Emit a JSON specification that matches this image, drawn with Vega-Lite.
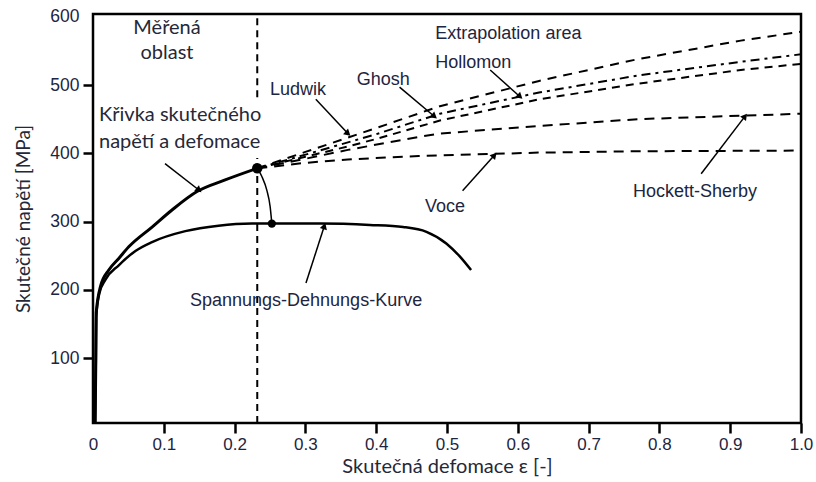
{
  "$schema": "https://vega.github.io/schema/vega-lite/v6.json",
  "width": 708,
  "height": 409,
  "autosize": {"type": "none"},
  "padding": {"left": 93, "top": 14, "right": 15, "bottom": 59},
  "background": "white",
  "config": {
    "view": {"stroke": "black", "strokeWidth": 2.5},
    "font": "Liberation Sans"
  },
  "datasets": {
    "measured": [
      {"curve": "true", "x": 0.003, "y": 5},
      {"curve": "true", "x": 0.004, "y": 100},
      {"curve": "true", "x": 0.0045, "y": 166},
      {"curve": "true", "x": 0.0106, "y": 205},
      {"curve": "true", "x": 0.0223, "y": 229},
      {"curve": "true", "x": 0.0364, "y": 246},
      {"curve": "true", "x": 0.0505, "y": 263},
      {"curve": "true", "x": 0.0834, "y": 292},
      {"curve": "true", "x": 0.1116, "y": 317},
      {"curve": "true", "x": 0.1469, "y": 344},
      {"curve": "true", "x": 0.1867, "y": 361},
      {"curve": "true", "x": 0.232, "y": 378},
      {"curve": "eng", "x": 0.003, "y": 5},
      {"curve": "eng", "x": 0.004, "y": 100},
      {"curve": "eng", "x": 0.0045, "y": 160},
      {"curve": "eng", "x": 0.009, "y": 195},
      {"curve": "eng", "x": 0.0176, "y": 215},
      {"curve": "eng", "x": 0.0364, "y": 236},
      {"curve": "eng", "x": 0.0599, "y": 257},
      {"curve": "eng", "x": 0.0834, "y": 270},
      {"curve": "eng", "x": 0.1304, "y": 286},
      {"curve": "eng", "x": 0.1773, "y": 294},
      {"curve": "eng", "x": 0.2244, "y": 297},
      {"curve": "eng", "x": 0.2526, "y": 297},
      {"curve": "eng", "x": 0.3206, "y": 297},
      {"curve": "eng", "x": 0.3911, "y": 295},
      {"curve": "eng", "x": 0.438, "y": 292},
      {"curve": "eng", "x": 0.471, "y": 285},
      {"curve": "eng", "x": 0.499, "y": 268},
      {"curve": "eng", "x": 0.518, "y": 249},
      {"curve": "eng", "x": 0.534, "y": 229},
      {"curve": "neck", "x": 0.2526, "y": 297},
      {"curve": "neck", "x": 0.2502, "y": 322},
      {"curve": "neck", "x": 0.2455, "y": 346},
      {"curve": "neck", "x": 0.2385, "y": 366},
      {"curve": "neck", "x": 0.2323, "y": 378}
    ],
    "models": [
      {"curve": "Ludwik", "x": 0.232, "y": 378},
      {"curve": "Ludwik", "x": 0.3, "y": 402},
      {"curve": "Ludwik", "x": 0.36, "y": 423},
      {"curve": "Ludwik", "x": 0.4, "y": 437},
      {"curve": "Ludwik", "x": 0.49, "y": 469},
      {"curve": "Ludwik", "x": 0.63, "y": 506},
      {"curve": "Ludwik", "x": 0.77, "y": 538},
      {"curve": "Ludwik", "x": 0.915, "y": 565},
      {"curve": "Ludwik", "x": 1.0, "y": 578},
      {"curve": "Hollomon", "x": 0.232, "y": 378},
      {"curve": "Hollomon", "x": 0.3, "y": 398},
      {"curve": "Hollomon", "x": 0.36, "y": 416},
      {"curve": "Hollomon", "x": 0.4, "y": 428},
      {"curve": "Hollomon", "x": 0.49, "y": 458},
      {"curve": "Hollomon", "x": 0.63, "y": 489},
      {"curve": "Hollomon", "x": 0.77, "y": 514},
      {"curve": "Hollomon", "x": 0.915, "y": 534},
      {"curve": "Hollomon", "x": 1.0, "y": 545},
      {"curve": "Ghosh", "x": 0.232, "y": 378},
      {"curve": "Ghosh", "x": 0.3, "y": 395},
      {"curve": "Ghosh", "x": 0.36, "y": 410},
      {"curve": "Ghosh", "x": 0.4, "y": 421},
      {"curve": "Ghosh", "x": 0.49, "y": 448},
      {"curve": "Ghosh", "x": 0.63, "y": 479},
      {"curve": "Ghosh", "x": 0.77, "y": 502},
      {"curve": "Ghosh", "x": 0.915, "y": 522},
      {"curve": "Ghosh", "x": 1.0, "y": 531},
      {"curve": "Hockett-Sherby", "x": 0.232, "y": 378},
      {"curve": "Hockett-Sherby", "x": 0.3, "y": 392},
      {"curve": "Hockett-Sherby", "x": 0.36, "y": 405},
      {"curve": "Hockett-Sherby", "x": 0.46, "y": 424},
      {"curve": "Hockett-Sherby", "x": 0.49, "y": 429},
      {"curve": "Hockett-Sherby", "x": 0.63, "y": 440},
      {"curve": "Hockett-Sherby", "x": 0.77, "y": 450},
      {"curve": "Hockett-Sherby", "x": 0.915, "y": 455},
      {"curve": "Hockett-Sherby", "x": 1.0, "y": 458},
      {"curve": "Voce", "x": 0.232, "y": 378},
      {"curve": "Voce", "x": 0.3, "y": 386},
      {"curve": "Voce", "x": 0.36, "y": 391},
      {"curve": "Voce", "x": 0.46, "y": 396},
      {"curve": "Voce", "x": 0.63, "y": 401},
      {"curve": "Voce", "x": 0.77, "y": 403},
      {"curve": "Voce", "x": 1.0, "y": 404}
    ],
    "limit": [
      {"x": 0.232, "y": 5, "y2": 393},
      {"x": 0.232, "y": 482, "y2": 604}
    ],
    "dots": [
      {"x": 0.232, "y": 378, "r": "big"},
      {"x": 0.2526, "y": 297, "r": "small"}
    ],
    "arrows": [
      {"x": 0.1017, "y": 385, "x2": 0.1486, "y2": 347, "angle": 130},
      {"x": 0.3147, "y": 479, "x2": 0.359, "y2": 430, "angle": 132},
      {"x": 0.433, "y": 497, "x2": 0.481, "y2": 455, "angle": 129},
      {"x": 0.561, "y": 522, "x2": 0.602, "y2": 484, "angle": 132},
      {"x": 0.522, "y": 345, "x2": 0.566, "y2": 396, "angle": 42},
      {"x": 0.859, "y": 370, "x2": 0.92, "y2": 453, "angle": 37},
      {"x": 0.3008, "y": 210, "x2": 0.3263, "y2": 292, "angle": 18}
    ],
    "regionLabel": [
      {"text": "Měřená", "x": 0.1045, "y": 583},
      {"text": "oblast", "x": 0.1045, "y": 547}
    ],
    "curveLabel": [
      {"text": "Křivka skutečného", "x": 0.0085, "y": 456},
      {"text": "napětí a defomace", "x": 0.0085, "y": 417}
    ],
    "labelsEn": [
      {"text": "Extrapolation area", "x": 0.4835, "y": 575},
      {"text": "Hollomon", "x": 0.4835, "y": 532},
      {"text": "Ghosh", "x": 0.3726, "y": 507},
      {"text": "Ludwik", "x": 0.25, "y": 492},
      {"text": "Voce", "x": 0.469, "y": 322},
      {"text": "Hockett-Sherby", "x": 0.7627, "y": 343},
      {"text": "Spannungs-Dehnungs-Kurve", "x": 0.137, "y": 184}
    ]
  },
  "encoding": {
    "x": {
      "field": "x",
      "type": "quantitative",
      "scale": {"domain": [0, 1], "nice": false, "zero": false},
      "axis": {
        "title": "Skutečná defomace ε [-]",
        "values": [0, 0.1, 0.2, 0.3, 0.4, 0.5, 0.6, 0.7, 0.8, 0.9, 1.0],
        "labelExpr": "datum.value == 0 ? '0' : format(datum.value, '.1f')",
        "domain": false,
        "grid": false,
        "tickSize": 10,
        "tickWidth": 2.5,
        "tickColor": "black",
        "tickOpacity": {"condition": {"test": "datum.value == 0", "value": 0}, "value": 1},
        "labelFont": "Liberation Sans",
        "labelFontSize": 17,
        "labelColor": "#1e2540",
        "labelPadding": 3,
        "labelFlush": false,
        "labelOverlap": false,
        "titleFont": "Lato",
        "titleFontSize": 20,
        "titleFontWeight": "normal",
        "titleColor": "#252838",
        "titlePadding": 4
      }
    },
    "y": {
      "field": "y",
      "type": "quantitative",
      "scale": {"domain": [5, 604], "nice": false, "zero": false},
      "axis": {
        "title": "Skutečné napětí [MPa]",
        "values": [100, 200, 300, 400, 500, 600],
        "domain": false,
        "grid": false,
        "tickSize": 10,
        "tickWidth": 2.5,
        "tickColor": "black",
        "tickOpacity": {"condition": {"test": "datum.value == 600", "value": 0}, "value": 1},
        "labelFont": "Liberation Sans",
        "labelFontSize": 17.5,
        "labelColor": "#1e2540",
        "labelPadding": 4,
        "labelFlush": false,
        "labelOverlap": false,
        "titleFont": "Lato",
        "titleFontSize": 19,
        "titleFontWeight": "normal",
        "titleColor": "#252838",
        "titlePadding": 16
      }
    }
  },
  "layer": [
    {
      "data": {"name": "limit"},
      "mark": {"type": "rule", "color": "black", "strokeWidth": 2, "strokeDash": [7, 5]},
      "encoding": {"y2": {"field": "y2"}}
    },
    {
      "data": {"name": "models"},
      "mark": {"type": "line", "color": "black", "strokeWidth": 2, "clip": true},
      "encoding": {
        "detail": {"field": "curve"},
        "strokeDash": {
          "field": "curve",
          "type": "nominal",
          "scale": {
            "domain": ["Ludwik", "Hollomon", "Ghosh", "Hockett-Sherby", "Voce"],
            "range": [[9, 7], [9, 5, 3, 5], [8, 6], [10, 7], [10, 7]]
          },
          "legend": null
        }
      }
    },
    {
      "data": {"name": "measured"},
      "transform": [{"filter": "datum.curve == 'true'"}],
      "mark": {"type": "line", "color": "black", "strokeWidth": 3, "interpolate": "monotone", "clip": true},
      "encoding": {}
    },
    {
      "data": {"name": "measured"},
      "transform": [{"filter": "datum.curve == 'eng'"}],
      "mark": {"type": "line", "color": "black", "strokeWidth": 2.5, "interpolate": "monotone", "clip": true},
      "encoding": {}
    },
    {
      "data": {"name": "measured"},
      "transform": [{"filter": "datum.curve == 'neck'"}],
      "mark": {"type": "line", "color": "black", "strokeWidth": 1.5, "interpolate": "monotone", "clip": true},
      "encoding": {}
    },
    {
      "data": {"name": "dots"},
      "mark": {"type": "point", "filled": true, "color": "black", "opacity": 1},
      "encoding": {
        "size": {"field": "r", "type": "nominal", "scale": {"domain": ["big", "small"], "range": [110, 70]}, "legend": null}
      }
    },
    {
      "data": {"name": "arrows"},
      "mark": {"type": "rule", "color": "black", "strokeWidth": 1.5},
      "encoding": {"x2": {"field": "x2"}, "y2": {"field": "y2"}}
    },
    {
      "data": {"name": "arrows"},
      "mark": {"type": "point", "shape": "triangle", "filled": true, "color": "black", "opacity": 1, "size": 55},
      "encoding": {
        "x": {"field": "x2", "type": "quantitative"},
        "y": {"field": "y2", "type": "quantitative"},
        "angle": {"field": "angle", "type": "quantitative", "scale": null}
      }
    },
    {
      "data": {"name": "regionLabel"},
      "mark": {"type": "text", "font": "Lato", "fontSize": 20, "color": "#252838", "align": "center", "baseline": "middle"},
      "encoding": {"text": {"field": "text"}}
    },
    {
      "data": {"name": "curveLabel"},
      "mark": {"type": "text", "font": "Lato", "fontSize": 20, "color": "#252838", "align": "left", "baseline": "middle"},
      "encoding": {"text": {"field": "text"}}
    },
    {
      "data": {"name": "labelsEn"},
      "mark": {"type": "text", "font": "Liberation Sans", "fontSize": 18, "color": "#1e2540", "align": "left", "baseline": "middle"},
      "encoding": {"text": {"field": "text"}}
    }
  ]
}
